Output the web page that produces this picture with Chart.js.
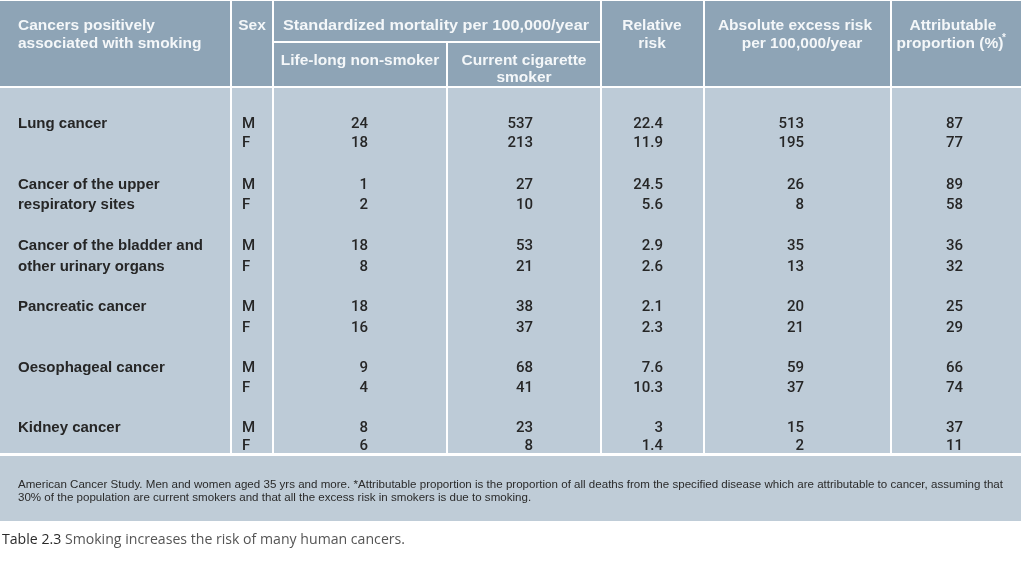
<!DOCTYPE html>
<html><head><meta charset="utf-8">
<script src="https://cdn.jsdelivr.net/npm/chart.js@4.4.1/dist/chart.umd.min.js"></script>
<style>html,body{margin:0;padding:0;background:#fff;overflow:hidden}canvas{display:block}</style>
</head><body>
<canvas id="c" width="1024" height="561"></canvas>
<script>
// ---------- data ----------
const cancerNames = [["Lung cancer"],["Cancer of the upper","respiratory sites"],["Cancer of the bladder and","other urinary organs"],["Pancreatic cancer"],["Oesophageal cancer"],["Kidney cancer"]];
const sexLabels = ["M","F"];
const nonSmokerM = [24,1,18,18,9,8];
const nonSmokerF = [18,2,8,16,4,6];
const smokerM = [537,27,53,38,68,23];
const smokerF = [213,10,21,37,41,8];
const relativeRiskM = [22.4,24.5,2.9,2.1,7.6,3];
const relativeRiskF = [11.9,5.6,2.6,2.3,10.3,1.4];
const excessRiskM = [513,26,35,20,59,15];
const excessRiskF = [195,8,13,21,37,2];
const attributableM = [87,89,36,25,66,37];
const attributableF = [77,58,32,29,74,11];
const columnTitles = ["Life-long non-smoker","Current cigarette smoker","Relative risk","Absolute excess risk per 100,000/year","Attributable proportion (%)"];
const footnoteLines = ["American Cancer Study. Men and women aged 35 yrs and more. *Attributable proportion is the proportion of all deaths from the specified disease which are attributable to cancer, assuming that",
  "30% of the population are current smokers and that all the excess risk in smokers is due to smoking."];
const captionLabel = "Table 2.3";
const captionText = " Smoking increases the risk of many human cancers.";

// ---------- layout / style ----------
const L = {
  W: 1024, H: 561, tableRight: 1021,
  headerTop: 1, headerBottom: 86, bodyTop: 88, bodyBottom: 453, footTop: 456, footBottom: 521,
  dividers: [230,272,446,600,703,890], lineW: 2, subLineY: 41,
  rowPitch: 60.8, firstRowY: 123,
  sexOffsets: [0.31,0.33,0.345,0.345,0.33,0.29],
  nameX: 18, sexX: 242,
  anchors: [368,533,663,804,963]
};
const C = { header: '#8ea4b6', body: '#bdcbd7', foot: '#bfccd7', line: '#ffffff', htext: '#f4f7f9', text: '#262626' };
const SANS = '"Liberation Sans", Arial, sans-serif';
const NUMF = '500 15px Roboto, "Liberation Sans", sans-serif';

function txt(ctx, s, x, y, font, color, align, sx){
  ctx.save(); ctx.font = font; ctx.fillStyle = color; ctx.textBaseline = 'alphabetic';
  ctx.translate(x, y); ctx.scale(sx || 1, 1); ctx.textAlign = align || 'left';
  ctx.fillText(s, 0, 0); ctx.restore();
}
function fitScale(ctx, s, font, w){ ctx.save(); ctx.font = font; const m = ctx.measureText(s).width; ctx.restore(); return w / m; }

const rowPos = (g, k) => g + k * L.sexOffsets[g];
const numericCols = [[nonSmokerM,nonSmokerF],[smokerM,smokerF],[relativeRiskM,relativeRiskF],[excessRiskM,excessRiskF],[attributableM,attributableF]];
const datasets = numericCols.map((pair, ci) => ({
  label: columnTitles[ci],
  data: pair[0].flatMap((m, g) => [
    {x: L.anchors[ci], y: rowPos(g, 0), v: m},
    {x: L.anchors[ci], y: rowPos(g, 1), v: pair[1][g]}
  ]),
  pointRadius: 0, pointHoverRadius: 0, showLine: false
}));

const tablePlugin = {
  id: 'tablePlugin',
  beforeDatasetsDraw(chart){
    const ctx = chart.ctx, ys = chart.scales.y;
    ctx.save();
    ctx.fillStyle = '#fff'; ctx.fillRect(0,0,L.W,L.H);
    ctx.fillStyle = C.header; ctx.fillRect(0, L.headerTop, L.tableRight, L.headerBottom - L.headerTop);
    ctx.fillStyle = C.body; ctx.fillRect(0, L.bodyTop, L.tableRight, L.bodyBottom - L.bodyTop);
    ctx.fillStyle = C.foot; ctx.fillRect(0, L.footTop, L.tableRight, L.footBottom - L.footTop);
    ctx.fillStyle = C.line;
    L.dividers.forEach((x, i) => {
      if (i === 2) ctx.fillRect(x, L.subLineY + L.lineW, L.lineW, L.bodyBottom - L.subLineY - L.lineW);
      else ctx.fillRect(x, L.headerTop, L.lineW, L.bodyBottom - L.headerTop);
    });
    ctx.fillRect(L.dividers[1] + L.lineW, L.subLineY, L.dividers[3] - L.dividers[1] - L.lineW, L.lineW);
    ctx.restore();

    // header texts
    const hf = 'bold 15.5px ' + SANS, hy1 = 30, hy2 = 48, hy3 = 65, hy4 = 82;
    txt(ctx, 'Cancers positively', 18, hy1, hf, C.htext, 'left');
    txt(ctx, 'associated with smoking', 18, hy2, hf, C.htext, 'left');
    txt(ctx, 'Sex', 252, hy1, hf, C.htext, 'center');
    const st = 'Standardized mortality per 100,000/year';
    txt(ctx, st, 436, hy1, hf, C.htext, 'center', fitScale(ctx, st, hf, 306));
    txt(ctx, 'Life-long non-smoker', 360, hy3, hf, C.htext, 'center');
    txt(ctx, 'Current cigarette', 524, hy3, hf, C.htext, 'center');
    txt(ctx, 'smoker', 524, hy4, hf, C.htext, 'center');
    txt(ctx, 'Relative', 652, hy1, hf, C.htext, 'center');
    txt(ctx, 'risk', 652, hy2, hf, C.htext, 'center');
    txt(ctx, 'Absolute excess risk', 795, hy1, hf, C.htext, 'center');
    txt(ctx, 'per 100,000/year', 802, hy2, hf, C.htext, 'center');
    txt(ctx, 'Attributable', 953, hy1, hf, C.htext, 'center');
    txt(ctx, 'proportion (%)', 950, hy2, hf, C.htext, 'center');
    txt(ctx, '*', 1002, hy2 - 7, 'bold 10px ' + SANS, C.htext, 'left');

    // body labels through the y scale
    const bf = 'bold 15px ' + SANS;
    cancerNames.forEach((lines, g) => {
      lines.forEach((s, k) => {
        txt(ctx, s, L.nameX, ys.getPixelForValue(rowPos(g, k)) + 5.4, bf, C.text, 'left');
      });
      sexLabels.forEach((s, k) => {
        txt(ctx, s, L.sexX, ys.getPixelForValue(rowPos(g, k)) + 5.4, NUMF, C.text, 'left');
      });
    });

    // footnote
    const ff = '10.5px ' + SANS;
    const fsx = fitScale(ctx, footnoteLines[0], ff, 985);
    txt(ctx, footnoteLines[0], 18, 487.5, ff, '#2a2a2a', 'left', fsx);
    txt(ctx, footnoteLines[1], 18, 500.5, ff, '#2a2a2a', 'left', fsx);

    // caption
    const cf = '14px "Open Sans", "Noto Sans", sans-serif';
    const full = captionLabel + captionText;
    const csx = fitScale(ctx, full, cf, 403);
    ctx.save(); ctx.font = cf; const lw = ctx.measureText(captionLabel).width * csx; ctx.restore();
    txt(ctx, captionLabel, 2, 544, cf, '#2a2a2a', 'left', csx);
    txt(ctx, captionText, 2 + lw, 544, cf, '#555555', 'left', csx);
  },
  afterDatasetsDraw(chart){
    const ctx = chart.ctx;
    chart.data.datasets.forEach((ds, i) => {
      const meta = chart.getDatasetMeta(i);
      meta.data.forEach((el, j) => {
        txt(ctx, String(ds.data[j].v), el.x, el.y + 5.4, NUMF, C.text, 'right');
      });
    });
  }
};

const yMin = -L.firstRowY / L.rowPitch;
const yMax = yMin + L.H / L.rowPitch;

new Chart(document.getElementById('c'), {
  type: 'scatter',
  data: { datasets },
  options: {
    responsive: false, animation: false, devicePixelRatio: 1,
    layout: { padding: 0 },
    events: [],
    plugins: { legend: { display: false }, tooltip: { enabled: false } },
    scales: {
      x: { type: 'linear', min: 0, max: L.W, display: false },
      y: { type: 'linear', min: yMin, max: yMax, reverse: true, display: false }
    }
  },
  plugins: [tablePlugin]
});
</script>
</body></html>
